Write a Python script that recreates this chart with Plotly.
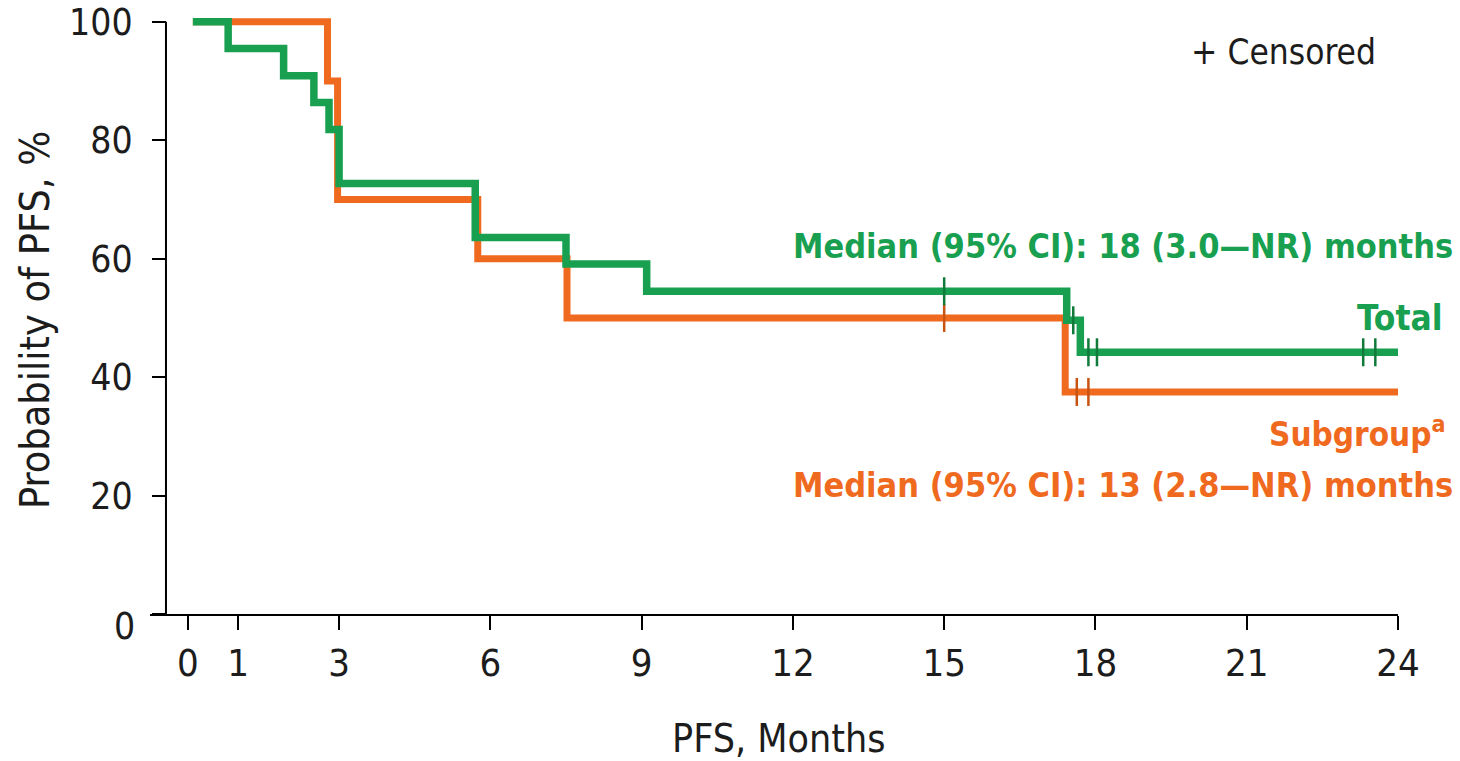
import plotly.graph_objects as go

# Kaplan-Meier step data (months, % progression-free)
total_months = [0.1, 0.8, 1.9, 2.5, 2.8, 3.0, 5.7, 7.5, 9.1, 17.43, 17.7, 24.0]
total_pfs = [100, 95.5, 90.9, 86.4, 81.8, 72.7, 63.6, 59.1, 54.5, 49.6, 44.2, 44.2]
subgroup_months = [0.1, 2.77, 2.97, 5.75, 7.52, 17.4, 24.0]
subgroup_pfs = [100, 90, 70, 60, 50, 37.5, 37.5]

# Censored observations
total_cens_months = [15.0, 17.56, 17.86, 18.03, 23.31, 23.55]
total_cens_pfs = [54.5, 49.6, 44.2, 44.2, 44.2, 44.2]
subgroup_cens_months = [15.0, 17.63, 17.86]
subgroup_cens_pfs = [50, 37.5, 37.5]

x_ticks = [0, 1, 3, 6, 9, 12, 15, 18, 21, 24]
y_ticks = [0, 20, 40, 60, 80, 100]
# the origin label is set slightly below its tick, so it is drawn separately
y_ticktext = ["" if v == 0 else str(v) for v in y_ticks]

GREEN = "#18a050"
ORANGE = "#ef6a1e"
FONT = "DejaVu Sans Condensed, DejaVu Sans, sans-serif"
TEXT = "#1c1c1c"

fig = go.Figure()

fig.add_trace(go.Scatter(x=subgroup_months, y=subgroup_pfs, mode="lines",
                         line=dict(color=ORANGE, width=7, shape="hv"),
                         showlegend=False, hoverinfo="skip"))
fig.add_trace(go.Scatter(x=total_months, y=total_pfs, mode="lines",
                         line=dict(color=GREEN, width=7.5, shape="hv"),
                         showlegend=False, hoverinfo="skip"))
fig.add_trace(go.Scatter(x=subgroup_cens_months, y=subgroup_cens_pfs, mode="markers",
                         marker=dict(symbol="line-ns", size=20,
                                     line=dict(color="#c8520f", width=2.5)),
                         showlegend=False, hoverinfo="skip"))
fig.add_trace(go.Scatter(x=total_cens_months, y=total_cens_pfs, mode="markers",
                         marker=dict(symbol="line-ns", size=20,
                                     line=dict(color="#0f7a3a", width=2.5)),
                         showlegend=False, hoverinfo="skip"))

Y_POS = 0.0128
L, R, T, B = 150, 62, 10, 147
PW, PH = 1460 - L - R, 761 - T - B

fig.update_layout(
    width=1460, height=761,
    margin=dict(l=L, r=R, t=T, b=B, autoexpand=False),
    plot_bgcolor="white", paper_bgcolor="white",
    font=dict(family=FONT, color=TEXT),
    xaxis=dict(range=[-0.75, 24], tickvals=x_ticks, ticktext=[str(v) for v in x_ticks],
               showgrid=False, zeroline=False, showline=True, linecolor="black",
               linewidth=2, ticks="outside", ticklen=14, tickwidth=2, tickcolor="black",
               tickfont=dict(size=38, family=FONT, color=TEXT),
               ticklabelstandoff=0, automargin=False),
    yaxis=dict(range=[0, 102], tickvals=y_ticks, ticktext=y_ticktext,
               anchor="free", position=Y_POS,
               showgrid=False, zeroline=False, showline=False,
               ticks="outside", ticklen=14, tickwidth=2, tickcolor="black",
               tickfont=dict(size=37, family=FONT, color=TEXT),
               ticklabelstandoff=12, automargin=False),
    shapes=[dict(type="line", xref="paper", yref="y", x0=Y_POS, x1=Y_POS, y0=0, y1=100,
                 line=dict(color="black", width=2))],
)

ann = [
    dict(text="PFS, Months", x=778, y=739, size=39, color=TEXT, xanchor="center"),
    dict(text="+ Censored", x=1378, y=52, size=35, color=TEXT, xanchor="right"),
    dict(text="<b>Median (95% CI): 18 (3.0\u2014NR) months</b>", x=1455, y=246, size=34,
         color=GREEN, xanchor="right"),
    dict(text="<b>Total</b>", x=1445, y=318, size=35, color=GREEN, xanchor="right"),
    dict(text="<b>Subgroup<sup>a</sup></b>", x=1448, y=432, size=33, color=ORANGE, xanchor="right"),
    dict(text="<b>Median (95% CI): 13 (2.8\u2014NR) months</b>", x=1455, y=485, size=34,
         color=ORANGE, xanchor="right"),
    dict(text="0", x=137, y=626, size=37, color=TEXT, xanchor="right"),
]
for a in ann:
    fig.add_annotation(text=a["text"], xref="paper", yref="paper",
                       x=(a["x"] - L) / PW, y=1 - (a["y"] - T) / PH,
                       xanchor=a["xanchor"], yanchor="middle", showarrow=False,
                       font=dict(size=a["size"], color=a["color"], family=FONT))

fig.add_annotation(text="Probability of PFS, %", xref="paper", yref="paper",
                   x=(35 - L) / PW, y=1 - (320 - T) / PH,
                   xanchor="center", yanchor="middle", textangle=-90, showarrow=False,
                   font=dict(size=41, color=TEXT, family=FONT))

fig.write_html("out.html")
